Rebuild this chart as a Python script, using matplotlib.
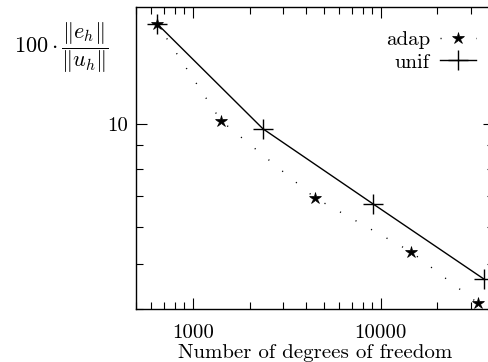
import matplotlib
matplotlib.use("Agg")
import matplotlib.pyplot as plt
from matplotlib.ticker import LogLocator, NullFormatter, FixedLocator, FixedFormatter

plt.rcParams['font.family'] = 'cmr10'
plt.rcParams['mathtext.fontset'] = 'cm'
plt.rcParams['axes.formatter.use_mathtext'] = True

adap_dof = [643, 1409, 4457, 14450, 32800]
adap_err = [16.4, 10.15, 6.93, 5.31, 4.12]
unif_dof = [643, 2356, 9061, 35300]
unif_err = [16.4, 9.75, 6.73, 4.64]

x_ticks = [1000, 10000]
x_ticklabels = ['1000', '10000']
y_ticks = [10]
y_ticklabels = ['10']

fig = plt.figure(figsize=(4.89, 3.62), dpi=100)
ax = fig.add_axes([136.4/489, 1-309/362, (494-136.4)/489, (309-7)/362])

ax.plot(adap_dof, adap_err, color='black', lw=1.0, linestyle=(0, (0.8, 12)),
        marker='*', ms=9, mew=0.5, mfc='black', mec='black', label='adap',
        clip_on=False)
ax.plot(unif_dof, unif_err, color='black', lw=1.0, linestyle='-',
        marker='+', ms=15, mew=1.0, label='unif', clip_on=False)

ax.set_xscale('log')
ax.set_yscale('log')
ax.set_xlim(500, 40000)
ax.set_ylim(4.0, 17.8)

ax.xaxis.set_major_locator(FixedLocator(x_ticks))
ax.xaxis.set_major_formatter(FixedFormatter(x_ticklabels))
ax.xaxis.set_minor_locator(LogLocator(base=10, subs=range(2, 10), numticks=20))
ax.xaxis.set_minor_formatter(NullFormatter())
ax.yaxis.set_major_locator(FixedLocator(y_ticks))
ax.yaxis.set_major_formatter(FixedFormatter(y_ticklabels))
ax.yaxis.set_minor_locator(LogLocator(base=10, subs=range(2, 10), numticks=20))
ax.yaxis.set_minor_formatter(NullFormatter())

ax.tick_params(which='both', direction='in', top=True, right=True, labelsize=15, width=0.8)
ax.tick_params(which='major', length=8)
ax.tick_params(axis='x', which='major', pad=11)
ax.tick_params(axis='y', which='major', pad=6)
ax.tick_params(which='minor', length=5)
for s in ax.spines.values():
    s.set_linewidth(1.0)

ax.set_xlabel('Number of degrees of freedom', fontsize=15, labelpad=1)
fig.text(61/489, 1-48/362, r'$100\cdot\dfrac{\|e_h\|}{\|u_h\|}$', fontsize=16,
         ha='center', va='center')

leg = ax.legend(loc='upper right', bbox_to_anchor=(484/489, 1-22/362),
                bbox_transform=fig.transFigure, borderaxespad=0,
                frameon=False, markerfirst=False, fontsize=15,
                handlelength=1.7, handletextpad=0.5,
                labelspacing=0.2, numpoints=1)

fig.savefig('out.png', dpi=100)
